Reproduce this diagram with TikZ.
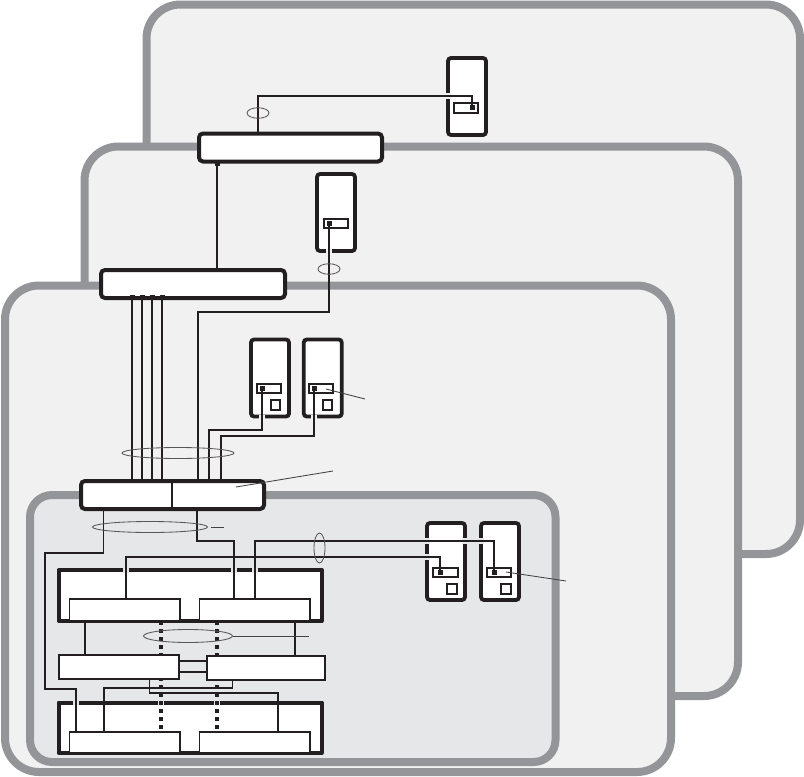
\documentclass[tikz,border=0pt]{standalone}
\usepackage{tikz}
\usetikzlibrary{shapes.geometric}
\definecolor{panelgrey}{HTML}{939598}
\definecolor{panelfill}{HTML}{F1F1F2}
\definecolor{innerfill}{HTML}{E6E7E8}
\definecolor{inkblack}{HTML}{231F20}
\tikzset{
  panel/.style={draw=panelgrey,line width=8pt,fill=panelfill,rounded corners=34pt,inner sep=0,outer sep=0},
  switchbox/.style={draw=inkblack,line width=4pt,fill=white,rounded corners=4pt,minimum width=183pt,minimum height=28pt,inner sep=0,outer sep=0},
  hostbox/.style={draw=inkblack,line width=3.8pt,fill=white,rounded corners=3pt,minimum width=38pt,minimum height=77pt,inner sep=0,outer sep=0},
  nicbar/.style={draw=inkblack,line width=1.8pt,fill=white,minimum width=24.5pt,minimum height=9.5pt,inner sep=0,outer sep=0},
  nicsq/.style={draw=inkblack,line width=1.8pt,fill=white,minimum size=9.5pt,inner sep=0,outer sep=0},
  portdot/.style={fill=inkblack,minimum size=5pt,inner sep=0,outer sep=0},
  chassis/.style={draw=inkblack,line width=4pt,fill=white,line join=round,minimum width=263pt,inner sep=0,outer sep=0},
  cardbox/.style={draw=inkblack,line width=1.8pt,fill=white,minimum width=110.5pt,minimum height=21.5pt,inner sep=0,outer sep=0},
  ctrlbox/.style={draw=inkblack,line width=1.8pt,fill=white,minimum height=24pt,inner sep=0,outer sep=0},
  bundle/.style={ellipse,draw=inkblack!75,line width=0.85pt,inner sep=0,outer sep=0},
  wire/.style={draw=inkblack,line width=1.8pt,line join=miter},
  leader/.style={draw=inkblack!85,line width=0.85pt},
  dotline/.style={draw=inkblack,line width=4pt,dash pattern=on 4pt off 4pt},
  gapa/.style={draw=panelfill,line width=6pt},
  gapb/.style={draw=innerfill,line width=6pt}
}
\begin{document}
\begin{tikzpicture}[x=1pt,y=-1pt]
\useasboundingbox (0,0) rectangle (804,777);
\fill[white] (0,0) rectangle (804,777);
\node[panel,minimum width=653.5pt,minimum height=549.5pt] (backpanel) at (473.25,279.25) {};
\node[panel,minimum width=653.5pt,minimum height=549.5pt] (midpanel) at (411.25,421.25) {};
\node[panel,minimum width=666pt,minimum height=486.5pt] (frontpanel) at (338,528.75) {};
\node[panel,fill=innerfill,rounded corners=22pt,minimum width=525.5pt,minimum height=267pt] (innerpanel) at (292.75,628.5) {};

\coordinate (dottopa) at (161,621);
\coordinate (dottopb) at (217,621);
\coordinate (dotlowa) at (161,731);
\coordinate (dotlowb) at (217,731);
\draw[dotline] (dottopa)--(dotlowa);
\draw[dotline] (dottopb)--(dotlowb);

% switches
\node[switchbox] (topsw) at (290.5,147.5) {};
\node[switchbox,minimum width=184pt] (midsw) at (193,284) {};
\node[switchbox] (frontsw) at (172.5,495) {};
\draw[inkblack,line width=1.8pt] (frontsw.north-|172,0)--(frontsw.south-|172,0);

% hosts
\node[hostbox] (tophost) at (467,96.5) {};
\node[nicbar] (topnic) at (466,108) {};
\node[hostbox] (midhost) at (336,212.5) {};
\node[nicbar] (midnic) at (336,223.5) {};
\node[hostbox] (hosta) at (270,378) {};
\node[nicbar] (nica) at (269,388.5) {};
\node[nicsq] (sqa) at (275.5,405) {};
\node[hostbox] (hostb) at (322.75,378) {};
\node[nicbar] (nicb) at (321,388.5) {};
\node[nicsq] (sqb) at (327.5,405) {};
\node[hostbox] (hostc) at (446,561.5) {};
\node[nicbar] (nicc) at (445.5,572.5) {};
\node[nicsq] (sqc) at (452,589) {};
\node[hostbox] (hostd) at (500,561.5) {};
\node[nicbar] (nicd) at (499,572.5) {};
\node[nicsq] (sqd) at (506,589) {};

% chassis and cards
\node[chassis,minimum height=51pt] (upchassis) at (190,595.5) {};
\node[chassis,minimum height=50.5pt] (lowchassis) at (190,727.75) {};
\node[cardbox] (upcarda) at (124.75,610) {};
\node[cardbox] (upcardb) at (254.75,610) {};
\node[cardbox] (lowcarda) at (124.75,742.5) {};
\node[cardbox] (lowcardb) at (254.75,742.5) {};

% ports
\node[portdot] (topdot) at (472,107) {};
\node[portdot] (middot) at (329,223) {};
\node[portdot] (dota) at (262,388) {};
\node[portdot] (dotb) at (314,388) {};
\node[portdot] (dotc) at (440,572) {};
\node[portdot] (dotd) at (494,572) {};
\node[portdot,minimum height=3pt] (toptab) at (217,164) {};
\foreach \n/\x in {1/132,2/142,3/152,4/162}{
  \node[portdot] (midtab\n) at (\x,297) {};
  \coordinate (fsw\n) at (\x,481);
  \draw[wire] (midtab\n.center)--(fsw\n);
}

% breaks in the outlines where wires pass
\draw[gapa] (445,96)--(451,96);
\draw[gapa] (329,249)--(329,254);
\draw[gapa] (262,415)--(262,420);
\draw[gapa] (314,415)--(314,420);
\foreach \x/\y in {427/541,427/557,465/541,481/541}
  \draw[gapb] (\x-3,\y)--(\x+3,\y);
\foreach \x in {126,234,255}
  \draw[gapb] (\x,567.5)--(\x,572.5);
\foreach \x in {76,161,217}
  \draw[gapb] (\x,700)--(\x,705);
\draw[dotline] (dottopa)--(dotlowa);
\draw[dotline] (dottopb)--(dotlowb);
\node[ctrlbox,minimum width=120pt] (ctrla) at (119,667) {};
\node[ctrlbox,minimum width=118pt] (ctrlb) at (266,668) {};

% wires
\coordinate (topswup) at (258,133);
\coordinate (midswup) at (217,270);
\coordinate (fswe) at (198,481);
\coordinate (fswf) at (209,481);
\coordinate (fswg) at (221,481);
\coordinate (fswdla) at (103.5,509);
\coordinate (fswdlb) at (197,509);
\coordinate (cardc) at (126,599.5);
\coordinate (cardd) at (255,599.5);
\coordinate (carde) at (234,599.5);
\coordinate (lowa) at (76,731.5);
\coordinate (lowb) at (104,731.5);
\coordinate (lowc) at (278,731.5);
\coordinate (ctrlaout) at (149.5,679);
\coordinate (ctrlbout) at (232.5,680);
\draw[wire] (topdot.center)--++(0,-11) -| (topswup);
\draw[wire] (toptab.center)--(midswup);
\draw[wire] (fswe)--++(0,-169) -| (middot.center);
\draw[wire] (fswf)--++(0,-51) -| (dota.center);
\draw[wire] (fswg)--++(0,-45) -| (dotb.center);
\draw[wire] (fswdla)--++(0,44) -- ++(-58.5,0) --++(0,136) -| (lowa);
\draw[wire] (fswdlb)--++(0,32) -| (carde);
\draw[wire] (cardc)--++(0,-42.5) -| (dotc.center);
\draw[wire] (cardd)--++(0,-58.5) -| (dotd.center);
\draw[wire] (ctrlbout)--++(0,8) -| (lowb);
\draw[wire,line width=1.4pt] (ctrlaout)--++(0,14) -| (lowc);
\draw[wire] (85,621)--(85,655);
\draw[wire] (295,621)--(295,656);
\draw[wire] (ctrla.east|-0,661)--(ctrlb.west|-0,661);
\draw[wire] (ctrla.east|-0,672)--(ctrlb.west|-0,672);

% bundles and leaders
\node[bundle,minimum width=22pt,minimum height=10.5pt] (ringtop) at (258,113) {};
\node[bundle,minimum width=22pt,minimum height=10.5pt] (ringmid) at (329,269) {};
\node[bundle,minimum width=112pt,minimum height=11pt] (ringfront) at (178,453) {};
\node[bundle,minimum width=115pt,minimum height=11pt] (ringinner) at (150,527) {};
\node[bundle,minimum width=89pt,minimum height=13pt] (ringchassis) at (188,636) {};
\node[bundle,minimum width=11pt,minimum height=30pt] (ringhost) at (319.5,548) {};
\coordinate (ldra) at (365,399);
\coordinate (ldrb) at (333,471);
\coordinate (ldrc) at (224,527);
\coordinate (ldrd) at (309,636);
\coordinate (ldre) at (566,581);
\draw[leader] (326,389)--(ldra);
\draw[leader] (236,487)--(ldrb);
\draw[leader] (ringinner.east)++(3,0)--(ldrc);
\draw[leader] (ringchassis.east)--(ldrd);
\draw[leader] (506,572)--(ldre);
\end{tikzpicture}
\end{document}
